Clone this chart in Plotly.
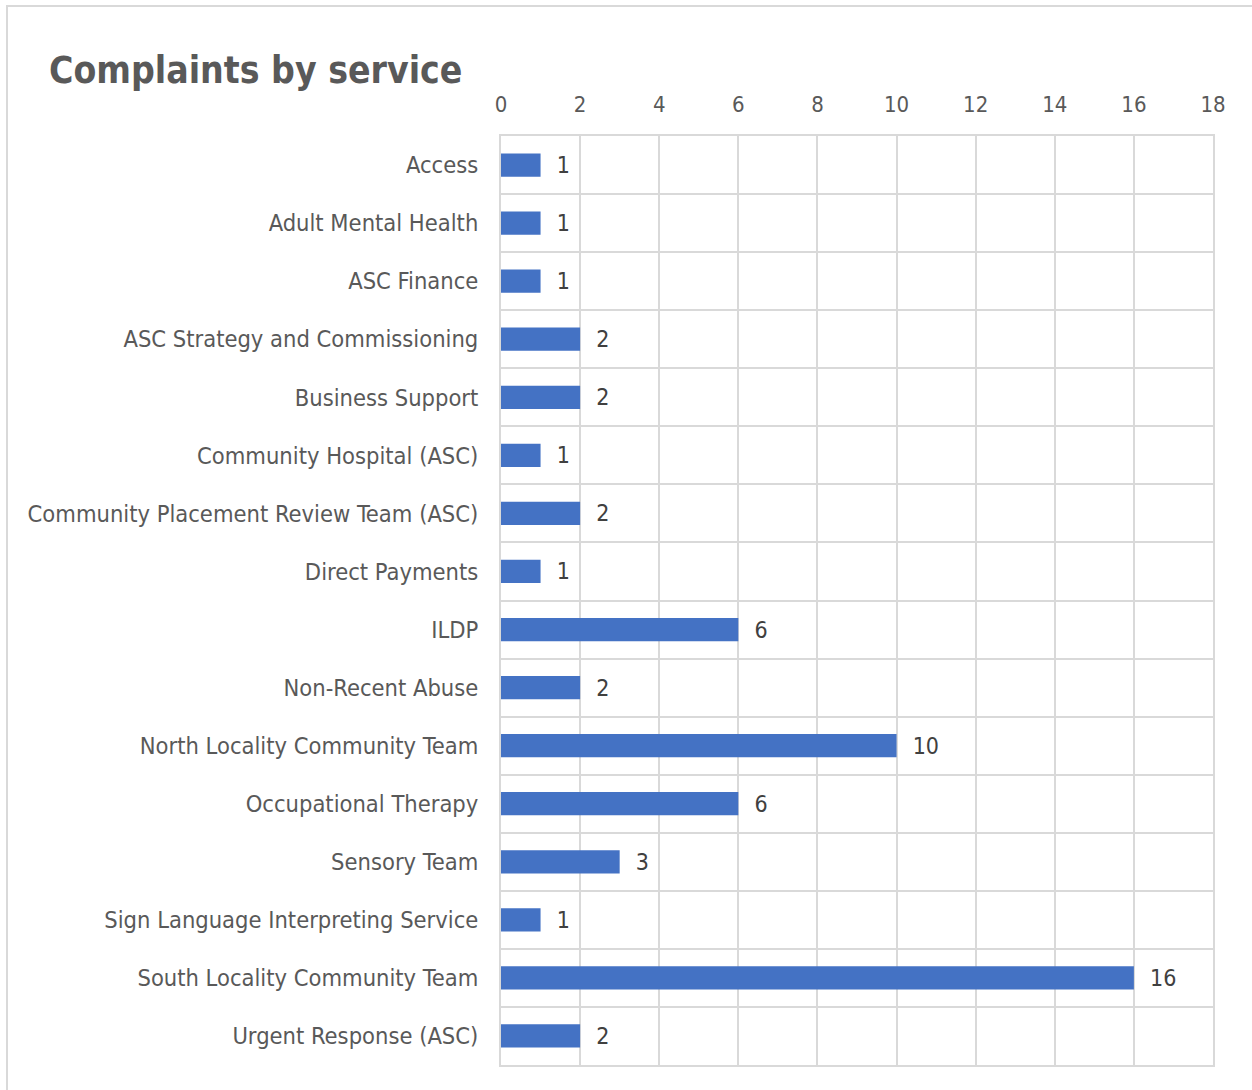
import plotly.graph_objects as go

# Complaint counts per service
services = [
    "Access",
    "Adult Mental Health",
    "ASC Finance",
    "ASC Strategy and Commissioning",
    "Business Support",
    "Community Hospital (ASC)",
    "Community Placement Review Team (ASC)",
    "Direct Payments",
    "ILDP",
    "Non-Recent Abuse",
    "North Locality Community Team",
    "Occupational Therapy",
    "Sensory Team",
    "Sign Language Interpreting Service",
    "South Locality Community Team",
    "Urgent Response (ASC)",
]
complaints = [1, 1, 1, 2, 2, 1, 2, 1, 6, 2, 10, 6, 3, 1, 16, 2]

x_ticks = list(range(0, 19, 2))

FONT = "DejaVu Sans Condensed"
TEXT_GREY = "#595959"
GRID_GREY = "#d9d9d9"
BAR_BLUE = "#4472C4"

fig = go.Figure(
    go.Bar(
        x=complaints,
        y=services,
        orientation="h",
        marker=dict(color=BAR_BLUE, line=dict(width=0)),
        text=complaints,
        texttemplate="\u00a0\u00a0%{text}",
        textposition="outside",
        constraintext="none",
        textfont=dict(family=FONT, size=23, color="#404040"),
        cliponaxis=False,
        hoverinfo="skip",
    )
)

fig.update_layout(
    width=1252,
    height=1090,
    margin=dict(l=501, r=39, t=136, b=25),
    paper_bgcolor="white",
    plot_bgcolor="white",
    bargap=0.6,
    showlegend=False,
    title=dict(
        text="<b>Complaints by service</b>",
        font=dict(family=FONT, size=37, color=TEXT_GREY),
        x=49 / 1252,
        xanchor="left",
        y=1 - 70 / 1090,
        yanchor="middle",
    ),
    xaxis=dict(
        side="top",
        range=[0, 18],
        tickvals=x_ticks,
        showgrid=True,
        gridcolor=GRID_GREY,
        gridwidth=2,
        zeroline=False,
        showline=True,
        linecolor=GRID_GREY,
        linewidth=2,
        mirror=True,
        ticks="",
        ticklabelstandoff=13,
        tickfont=dict(family=FONT, size=22, color=TEXT_GREY),
    ),
    yaxis=dict(
        type="category",
        autorange="reversed",
        tickson="boundaries",
        showgrid=True,
        gridcolor=GRID_GREY,
        gridwidth=2,
        showline=True,
        linecolor=GRID_GREY,
        linewidth=2,
        mirror=True,
        ticks="",
        ticklabelstandoff=16,
        tickfont=dict(family=FONT, size=23.5, color=TEXT_GREY),
    ),
    shapes=[
        dict(
            type="rect",
            xref="paper",
            yref="paper",
            x0=(7 - 501) / 712,
            x1=(1260 - 501) / 712,
            y0=-(1100 - 1065) / 929,
            y1=1 + (136 - 6) / 929,
            line=dict(color=GRID_GREY, width=2),
            fillcolor="rgba(0,0,0,0)",
            layer="below",
        )
    ],
)

fig.write_html("out.html")
